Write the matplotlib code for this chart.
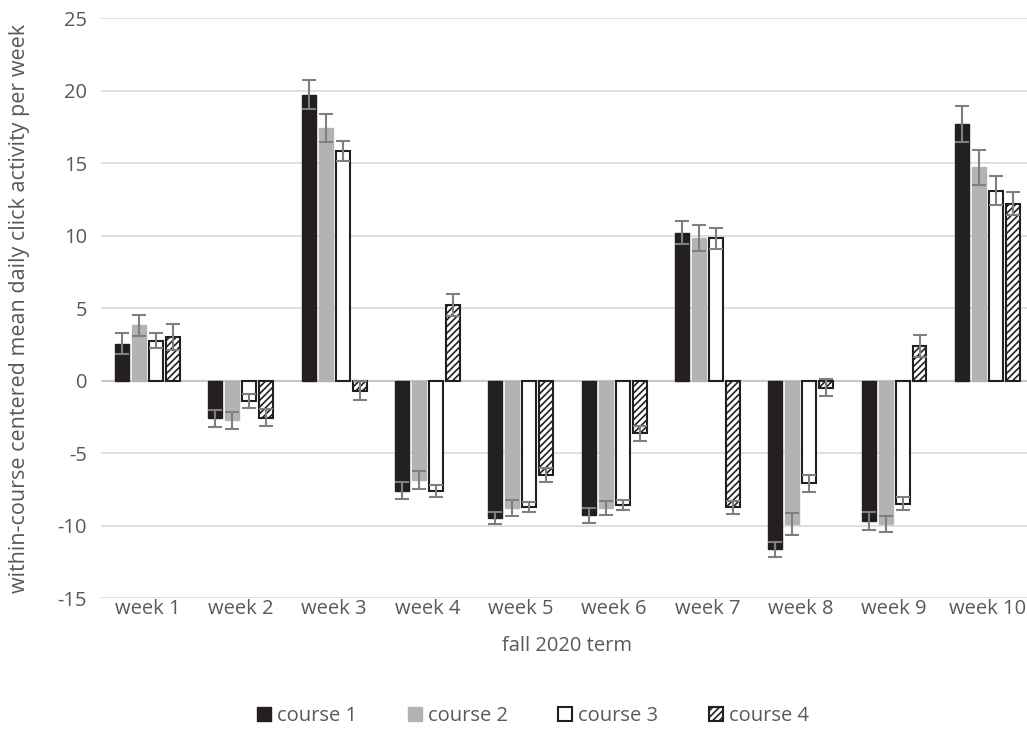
import matplotlib
matplotlib.use("Agg")
import matplotlib.pyplot as plt
import numpy as np

# data
weeks = ["week 1", "week 2", "week 3", "week 4", "week 5",
         "week 6", "week 7", "week 8", "week 9", "week 10"]
courses = ["course 1", "course 2", "course 3", "course 4"]

course1 = [2.55, -2.6, 19.7, -7.6, -9.5, -9.3, 10.2, -11.65, -9.7, 17.7]
course2 = [3.8, -2.75, 17.4, -6.85, -8.8, -8.8, 9.8, -9.9, -9.9, 14.7]
course3 = [2.75, -1.4, 15.85, -7.6, -8.75, -8.6, 9.8, -7.1, -8.5, 13.1]
course4 = [3.0, -2.55, -0.7, 5.2, -6.5, -3.65, -8.75, -0.5, 2.4, 12.2]

err1 = [0.7, 0.6, 1.0, 0.6, 0.4, 0.5, 0.8, 0.5, 0.6, 1.25]
err2 = [0.75, 0.6, 0.95, 0.6, 0.55, 0.5, 0.9, 0.75, 0.55, 1.2]
err3 = [0.5, 0.5, 0.7, 0.4, 0.35, 0.35, 0.7, 0.6, 0.45, 1.0]
err4 = [0.9, 0.6, 0.65, 0.75, 0.5, 0.5, 0.45, 0.6, 0.75, 0.8]

plt.rcParams["font.family"] = ["Open Sans", "DejaVu Sans"]
plt.rcParams["hatch.linewidth"] = 1.2
plt.rcParams["axes.unicode_minus"] = False

fig = plt.figure(figsize=(10.27, 7.48), dpi=100)
ax = fig.add_axes([0.0983, 0.2005, 0.9085, 0.7754])

x = np.arange(len(weeks))
pitch = 0.182
width = 0.15
styles = [
    dict(color="#231f20", edgecolor="#231f20"),
    dict(color="#b2b3b5", edgecolor="#b2b3b5"),
    dict(color="white", edgecolor="#231f20", linewidth=1.5),
    dict(color="white", edgecolor="#231f20", linewidth=1.5, hatch="/////"),
]
values = [course1, course2, course3, course4]
errors = [err1, err2, err3, err4]

for i, (vals, errs, st) in enumerate(zip(values, errors, styles)):
    pos = x + (i - 1.5) * pitch
    ax.bar(pos, vals, width, label=courses[i], zorder=3, **st)
    ax.errorbar(pos, vals, yerr=errs, fmt="none", ecolor="#7f7f7f",
                elinewidth=1.5, capsize=5, capthick=1.5, zorder=4)

ax.set_xlim(-0.5, len(weeks) - 0.5)
ax.set_ylim(-15, 25)
ax.set_yticks(np.arange(-15, 26, 5))
ax.set_xticks(x)
ax.set_xticklabels(weeks)

ax.grid(axis="y", color="#d9d9d9", linewidth=1.2, zorder=0)
ax.axhline(0, color="#c8c8c8", linewidth=1.5, zorder=2)
for s in ax.spines.values():
    s.set_visible(False)
ax.tick_params(length=0, labelsize=14.5, labelcolor="#595959")
ax.tick_params(axis="x", pad=1)
ax.tick_params(axis="y", pad=10)

ax.set_xlabel("fall 2020 term", fontsize=14.5, color="#595959", labelpad=12)
ax.set_ylabel("within-course centered mean daily click activity per week",
              fontsize=15.5, color="#595959", labelpad=20)

fig.legend(loc="lower center", bbox_to_anchor=(0.519, 0.005), ncol=4,
           frameon=False, fontsize=14.5, labelcolor="#595959",
           handlelength=0.7, handleheight=0.7, handletextpad=0.3,
           columnspacing=2.5)

fig.savefig("out.png", dpi=100)
